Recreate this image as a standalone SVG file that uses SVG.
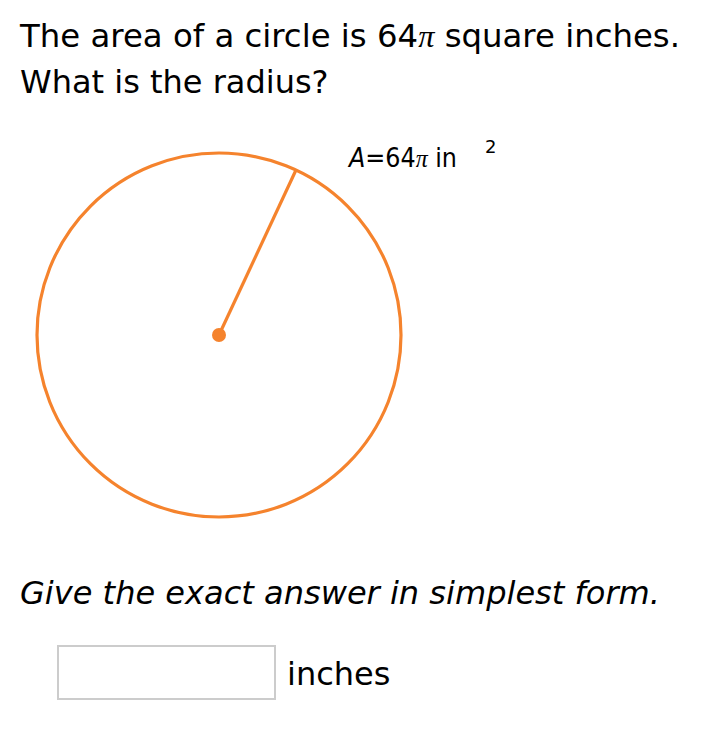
<svg xmlns="http://www.w3.org/2000/svg" width="708" height="749" viewBox="0 0 708 749">
<style>
.t{font-family:"DejaVu Sans",Verdana,sans-serif;fill:#000;}
.pi{font-family:"Liberation Serif","DejaVu Serif",serif;font-style:italic;}
.o{stroke:#F5832D;stroke-width:3.2;fill:none;}
</style>
<rect width="708" height="749" fill="#fff"/>
<text class="t" x="20" y="47" font-size="32" textLength="660" lengthAdjust="spacingAndGlyphs">The area of a circle is 64<tspan class="pi">π</tspan> square inches.</text>
<text class="t" x="20" y="93" font-size="32">What is the radius?</text>
<g id="circle">
<circle class="o" cx="219" cy="335" r="182"/>
<line class="o" x1="219" y1="335" x2="296" y2="170"/>
<circle cx="219" cy="335" r="7" fill="#F5832D"/>
</g>
<g id="label">
<text class="t" x="349" y="167" font-size="26" textLength="108" lengthAdjust="spacingAndGlyphs"><tspan font-style="italic">A</tspan>=64<tspan class="pi">π</tspan> in</text>
<text class="t" x="485" y="153" font-size="18">2</text>
</g>
<text class="t" x="20" y="604" font-size="32" font-style="italic" textLength="640" lengthAdjust="spacingAndGlyphs">Give the exact answer in simplest form.</text>
<g id="answer">
<rect x="58" y="646" width="217" height="53" fill="#fff" stroke="#ccc" stroke-width="2"/>
<text class="t" x="287" y="685" font-size="32">inches</text>
</g>
</svg>
